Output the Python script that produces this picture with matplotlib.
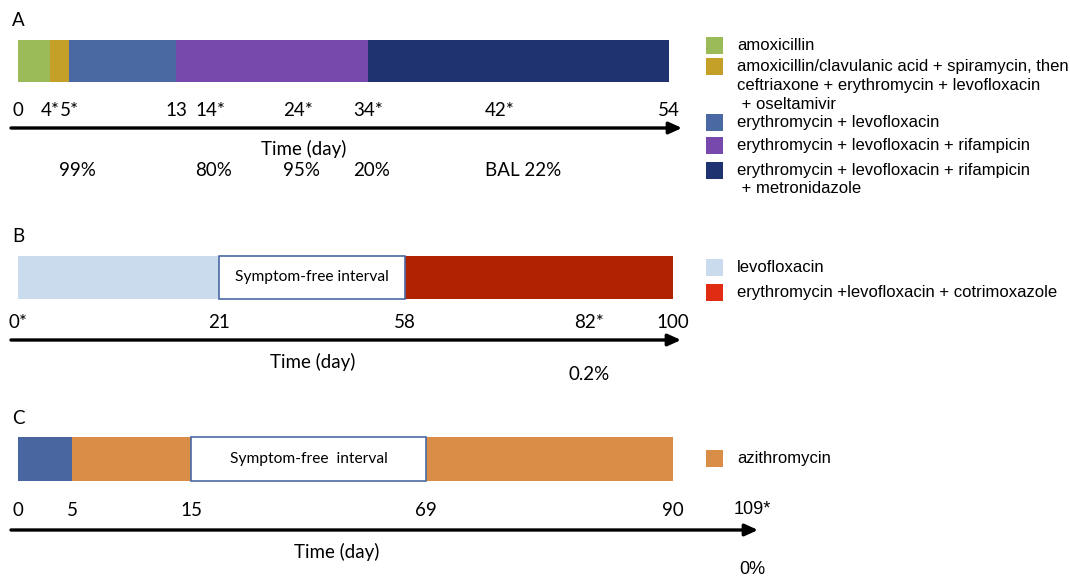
import numpy as np
import matplotlib
matplotlib.use("Agg")
import matplotlib.pyplot as plt
from matplotlib.patches import Rectangle

# ---- data (days) ----
# panel A
a_start = [0, 4, 5, 13, 34]
a_end = [4, 5, 13, 34, 54]
a_days = [0, 4, 5, 13, 14, 24, 34, 42, 54]
a_labels = ["0", "4*", "5*", "13", "14*", "24*", "34*", "42*", "54"]
a_pct_days = [5, 14, 24, 34, 42]
a_pct = ["99%", "80%", "95%", "20%", "BAL 22%"]
a_legend = [
    "amoxicillin",
    "amoxicillin/clavulanic acid + spiramycin, then\nceftriaxone + erythromycin + levofloxacin\n + oseltamivir",
    "erythromycin + levofloxacin",
    "erythromycin + levofloxacin + rifampicin",
    "erythromycin + levofloxacin + rifampicin\n + metronidazole",
]

# panel B
b_start = [0, 21, 58]
b_end = [21, 58, 100]
b_free = [False, True, False]
b_days = [0, 21, 58, 82, 100]
b_labels = ["0*", "21", "58", "82*", "100"]
b_pct_days = [82]
b_pct = ["0.2%"]
b_legend = ["levofloxacin", "erythromycin +levofloxacin + cotrimoxazole"]

# panel C
c_start = [0, 5, 15, 69]
c_end = [5, 15, 69, 90]
c_free = [False, False, True, False]
c_days = [0, 5, 15, 69, 90, 109]
c_labels = ["0", "5", "15", "69", "90", "109*"]
c_pct_days = [109]
c_pct = ["0%"]
c_legend = ["azithromycin"]

# ---- styling / layout ----
a_colors = ["#9BBB59", "#C5A028", "#4A69A3", "#7849AC", "#1F3371"]
b_colors = ["#CADBEE", "white", "#B12200"]
b_leg_colors = ["#CADBEE", "#E02C12"]
c_colors = ["#4A66A0", "#DA8D47", "white", "#DA8D47"]
edge_free = "#4A6AA5"

# schematic (not to scale) pixel position of each labelled day
a_px = [18, 50, 69, 176, 210, 298, 368, 500, 669]
b_px = [18, 219, 405, 589, 673]
c_px = [18, 72, 191, 426, 673, 752]

W, H = 1070, 578
CAL = "Lato"
ARI = "Liberation Sans"
CAL_SIZE = 13.5
ARI_SIZE = 12


def make_scale(days, px):
    days = np.asarray(days, float)
    px = np.asarray(px, float)
    s0 = (px[1] - px[0]) / (days[1] - days[0])
    s1 = (px[-1] - px[-2]) / (days[-1] - days[-2])

    def fwd(d):
        d = np.asarray(d, float)
        out = np.interp(d, days, px)
        out = np.where(d < days[0], px[0] + (d - days[0]) * s0, out)
        return np.where(d > days[-1], px[-1] + (d - days[-1]) * s1, out)

    def inv(p):
        p = np.asarray(p, float)
        out = np.interp(p, px, days)
        out = np.where(p < px[0], days[0] + (p - px[0]) / s0, out)
        return np.where(p > px[-1], days[-1] + (p - px[-1]) / s1, out)

    return fwd, inv


fig = plt.figure(figsize=(W / 100, H / 100), dpi=100)
ov = fig.add_axes([0, 0, 1, 1], label="overlay")
ov.set_xlim(0, W)
ov.set_ylim(H, 0)
ov.axis("off")


def panel(name, days, px, starts, ends, colors, free, labels, pct_days, pct,
          bar_y, bar_h, lab_y, pct_y, pct_align, label_fonts, free_text):
    ax = fig.add_axes([0, 0, 1, 1], label=name)
    fwd, inv = make_scale(days, px)
    ax.set_xscale("function", functions=(fwd, inv))
    ax.set_xlim(float(inv(0)), float(inv(W)))
    ax.set_ylim(H, 0)
    ax.axis("off")
    ax.patch.set_alpha(0)
    widths = np.subtract(ends, starts)
    for s, w, col, f in zip(starts, widths, colors, free):
        if f:
            ax.barh(bar_y, w, left=s, height=bar_h, color="white",
                    edgecolor=edge_free, linewidth=1.2, zorder=3)
            ax.text(s + w / 2, bar_y, free_text, ha="center", va="center",
                    family=CAL, fontsize=11.2, zorder=4)
        else:
            ax.barh(bar_y, w, left=s, height=bar_h, color=col, linewidth=0)
    texts = {}
    for d, lab, fam in zip(days, labels, label_fonts):
        texts[d] = ax.text(d, lab_y, lab, ha="center", va="center", family=fam,
                           fontsize=CAL_SIZE if fam == CAL else 13)
    fig.canvas.draw()
    for d, p in zip(pct_days, pct):
        t = texts[d]
        fam = t.get_fontfamily()
        size = t.get_fontsize()
        if pct_align == "left":
            ax.annotate(p, xy=(0, pct_y), xycoords=(t, "data"), ha="left",
                        va="center", family=fam, fontsize=size)
        else:
            ax.annotate(p, xy=(0.5, pct_y), xycoords=(t, "data"), ha="center",
                        va="center", family=fam, fontsize=size)
    return ax


panel("A", a_days, a_px, a_start, a_end, a_colors, [False] * 5, a_labels,
      a_pct_days, a_pct, 61, 42, 110, 171, "left", [CAL] * 9, "")
panel("B", b_days, b_px, b_start, b_end, b_colors, b_free, b_labels,
      b_pct_days, b_pct, 277.5, 43, 322, 374, "center", [CAL] * 5,
      "Symptom-free interval")
panel("C", c_days, c_px, c_start, c_end, c_colors, c_free, c_labels,
      c_pct_days, c_pct, 459, 44, 510, 570, "center", [CAL] * 5 + [ARI],
      "Symptom-free  interval")

# arrows, panel letters, axis titles
arrow = dict(arrowstyle="-|>,head_length=0.55,head_width=0.25", lw=2.4,
             color="black", shrinkA=0, shrinkB=0, mutation_scale=14)
for y, x1 in [(128, 682), (340, 681), (530, 758)]:
    ov.annotate("", xy=(x1, y), xytext=(11, y), arrowprops=arrow)
for lab, y in [("A", 20), ("B", 236), ("C", 418)]:
    ov.text(12, y, lab, ha="left", va="center", family=CAL, fontsize=CAL_SIZE)
for x, y in [(304, 149), (313, 362), (337, 552)]:
    ov.text(x, y, "Time (day)", ha="center", va="center", family=CAL,
            fontsize=CAL_SIZE)


# legends
def legend(entries, colors, ys):
    for lab, col, y in zip(entries, colors, ys):
        ov.add_patch(Rectangle((706, y - 8.5), 17, 17, facecolor=col,
                               edgecolor="none"))
        ov.text(737, y - 7.5, lab, ha="left", va="top", family=ARI,
                fontsize=ARI_SIZE, linespacing=1.32)


legend(a_legend, a_colors, [45, 66.5, 122.5, 145.5, 170])
legend(b_legend, b_leg_colors, [267, 292.5])
legend(c_legend, ["#DA8D47"], [458])

fig.savefig("out.png", dpi=100, facecolor="white")
